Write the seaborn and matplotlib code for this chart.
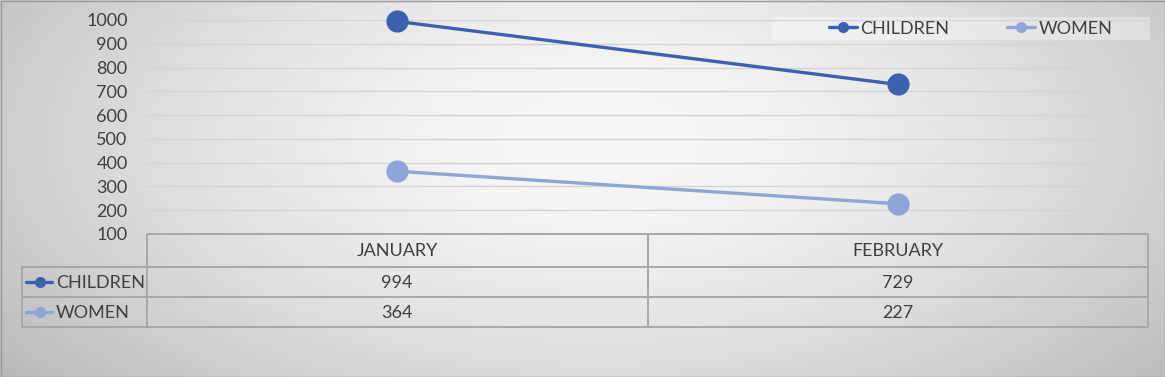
import numpy as np
import pandas as pd
import matplotlib
matplotlib.use("Agg")
import matplotlib.pyplot as plt
import matplotlib.transforms as mtransforms
from matplotlib.lines import Line2D
from matplotlib.patches import Rectangle
import seaborn as sns

months = ["JANUARY", "FEBRUARY"]
series_names = ["CHILDREN", "WOMEN"]
children = [994, 729]
women = [364, 227]
y_ticks = [100, 200, 300, 400, 500, 600, 700, 800, 900, 1000]
colors = {"CHILDREN": "#3A62AE", "WOMEN": "#8FA5D8"}

df = pd.DataFrame({
    "month": months * 2,
    "series": ["CHILDREN"] * len(months) + ["WOMEN"] * len(months),
    "value": children + women,
})

sns.set_theme(style="white")
plt.rcParams["font.family"] = ["Lato", "DejaVu Sans"]
TXT = "#404040"
LINE = "#a8a8a8"

W, H = 1165, 377
fig = plt.figure(figsize=(W / 100, H / 100), dpi=100)

# background radial gradient
bg = fig.add_axes([0, 0, 1, 1], zorder=-10)
yy, xx = np.mgrid[0:H, 0:W]
r = np.sqrt(((xx - 600) / (W * 0.62)) ** 2 + ((yy - 140) / (H * 0.95)) ** 2)
val = np.clip(0.975 - 0.23 * r ** 1.6, 0, 1)
bg.imshow(np.dstack([val, val, val]), extent=[0, W, H, 0], aspect="auto", interpolation="bilinear")
bg.set_xlim(0, W)
bg.set_ylim(H, 0)
bg.axis("off")
bg.add_patch(Rectangle((0.5, 0.5), W - 1, H - 1, fill=False, edgecolor="#9a9a9a", lw=1))
# lighter legend band
bg.add_patch(Rectangle((772, 17), 378, 23, facecolor="white", alpha=0.35, edgecolor="none"))

L, R, T, B = 147, 1148, 20, 234
ax = fig.add_axes([L / W, 1 - B / H, (R - L) / W, (B - T) / H])
ax.set_facecolor("none")

sns.lineplot(data=df, x="month", y="value", hue="series", hue_order=series_names,
             palette=colors, marker="o", markersize=16, markeredgewidth=0,
             linewidth=2.4, clip_on=False, ax=ax, zorder=5, legend=False)

ax.set_xlim(-0.5, len(months) - 0.5)
ax.set_ylim(min(y_ticks), max(y_ticks))
ax.set_yticks(y_ticks)
ax.set_yticklabels([str(t) for t in y_ticks], fontsize=13, color=TXT)
ax.tick_params(axis="y", length=0, pad=14)
ax.set_xticks([])
ax.set_xlabel("")
ax.set_ylabel("")
ax.yaxis.grid(True, color="#d4d4d4", lw=1)
for s in ax.spines.values():
    s.set_visible(False)

# legend
handles = [Line2D([0], [0], color=colors[n], lw=2.4, marker="o", markersize=8, markeredgewidth=0)
           for n in series_names]
leg = fig.legend(handles, series_names, loc="center left",
                 bbox_to_anchor=(829 / W, 1 - 28.5 / H), ncol=2, frameon=False,
                 fontsize=13, handlelength=1.55, handletextpad=0.2, columnspacing=3.2,
                 borderpad=0, borderaxespad=0)
for t in leg.get_texts():
    t.set_color(TXT)

# data table
pix = mtransforms.Affine2D().scale(1 / W, -1 / H).translate(0, 1) + fig.transFigure
xdata_ypix = mtransforms.blended_transform_factory(ax.transData, pix)
rows_y = [234, 267, 297, 327]
n = len(months)
kw = dict(color=LINE, lw=1.4, clip_on=False, zorder=6)
# horizontal lines
ax.plot([-0.5, n - 0.5], [rows_y[0]] * 2, transform=xdata_ypix, **kw)
for yv in rows_y[1:]:
    fig.add_artist(Line2D([22, R], [yv, yv], transform=pix, **kw))
# vertical lines
for i in range(n + 1):
    ax.plot([i - 0.5, i - 0.5], [rows_y[0], rows_y[-1]], transform=xdata_ypix, **kw)
fig.add_artist(Line2D([22, 22], [rows_y[1], rows_y[-1]], transform=pix, **kw))

for i, m in enumerate(months):
    ax.text(i, (rows_y[0] + rows_y[1]) / 2 + 1, m, transform=xdata_ypix, ha="center",
            va="center", fontsize=13, color=TXT)
for j, (name, vals) in enumerate(zip(series_names, [children, women])):
    yc = (rows_y[j + 1] + rows_y[j + 2]) / 2 + 1
    for i, v in enumerate(vals):
        ax.text(i, yc, str(v), transform=xdata_ypix, ha="center", va="center",
                fontsize=13, color=TXT)
    fig.add_artist(Line2D([26, 52], [yc - 1, yc - 1], transform=pix, color=colors[name], lw=2.4))
    fig.add_artist(Line2D([40], [yc - 1], transform=pix, color=colors[name], marker="o",
                          markersize=8, markeredgewidth=0))
    fig.text(56 / W, 1 - yc / H, name, ha="left", va="center", fontsize=13, color=TXT)

fig.savefig("out.png", dpi=100)
